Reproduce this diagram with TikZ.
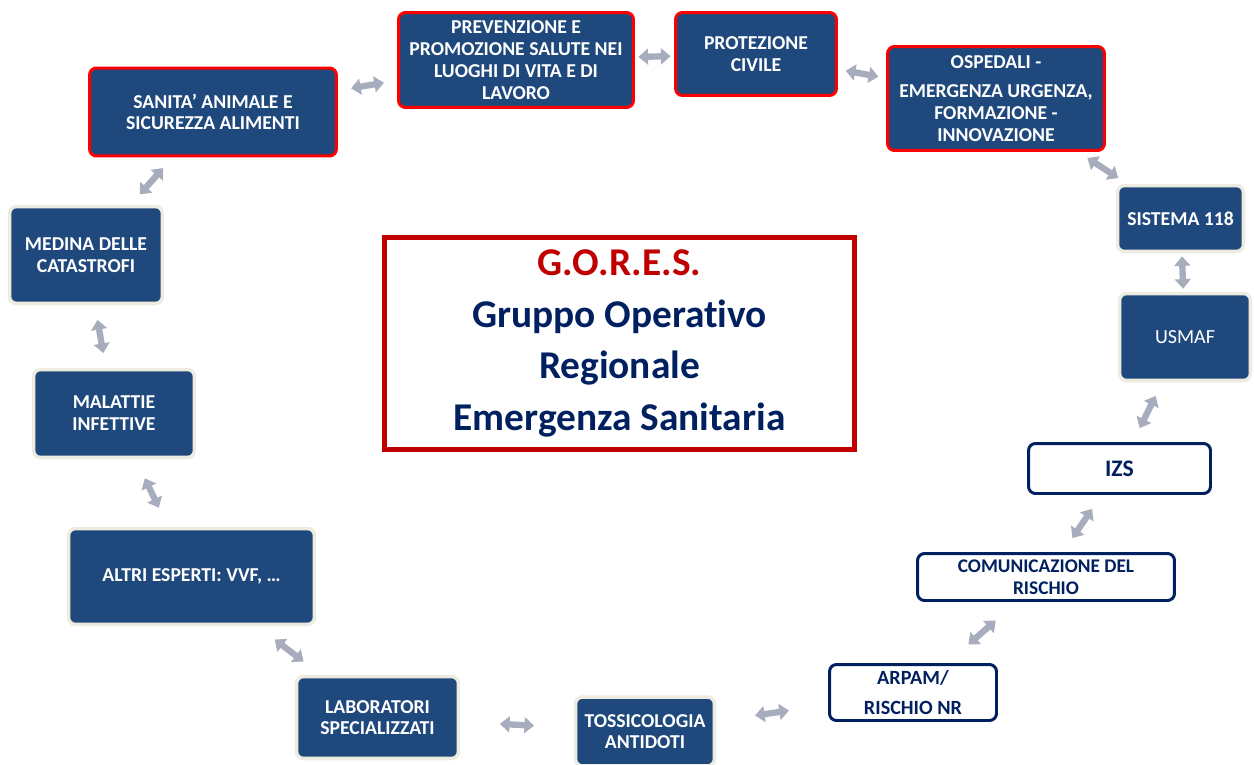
\documentclass[tikz,border=0pt]{standalone}
\usepackage{fontspec}
\setmainfont{Carlito}[Ligatures=NoCommon]
\usetikzlibrary{arrows.meta}
\definecolor{boxblue}{RGB}{31,73,125}
\definecolor{boxred}{RGB}{255,0,0}
\definecolor{cream}{RGB}{238,236,225}
\definecolor{navy}{RGB}{0,32,96}
\definecolor{goresred}{RGB}{192,0,0}
\definecolor{arrowgray}{RGB}{167,173,189}

\begin{document}
\begin{tikzpicture}[x=0.02cm, y=-0.02cm,% one unit = one pixel of the original
        box/.style={rounded corners=4pt, fill=boxblue, text=white, align=center, outer sep=0pt, inner sep=2pt,
          font=\bfseries\fontsize{11.2}{12.4}\selectfont},
        redbox/.style={box, draw=boxred, line width=1.7pt},
        creambox/.style={box, draw=cream, line width=2pt},
        whitebox/.style={box, fill=white, text=navy, draw=navy, line width=1.7pt},
        biarrow/.style={{Triangle[width=9pt,length=5.5pt]}-{Triangle[width=9pt,length=5.5pt]}, line width=3.6pt, draw=arrowgray}]
\useasboundingbox (0,0) rectangle (1254,764);

% top row, red frames
\node[redbox, minimum width=4.94cm, minimum height=1.76cm] (sanita) at (213,112) {SANITA’ ANIMALE E\\SICUREZZA ALIMENTI};
\node[redbox, minimum width=4.7cm, minimum height=1.9cm] (prev) at (516,60) {PREVENZIONE E\\PROMOZIONE SALUTE NEI\\LUOGHI DI VITA E DI\\LAVORO};
\node[redbox, minimum width=3.22cm, minimum height=1.66cm] (prot) at (756,54) {PROTEZIONE\\CIVILE};
\node[redbox, minimum width=4.34cm, minimum height=2.08cm] (osp) at (996,98.5) {OSPEDALI -\\[4pt]EMERGENZA URGENZA,\\FORMAZIONE -\\INNOVAZIONE};

% right side
\node[creambox, minimum width=2.52cm, minimum height=1.32cm] (sis) at (1180.5,218.5) {SISTEMA 118};
\node[creambox, minimum width=2.62cm, minimum height=1.74cm, font=\fontsize{11.4}{12.4}\selectfont] (usmaf) at (1185,337) {USMAF};
\node[whitebox, minimum width=3.64cm, minimum height=1.0cm, font=\bfseries\fontsize{13.5}{16}\selectfont] (izs) at (1119.5,468.5) {IZS};
\node[whitebox, minimum width=5.14cm, minimum height=0.94cm, font=\bfseries\fontsize{11}{12.6}\selectfont] (comun) at (1046,577) {COMUNICAZIONE DEL\\RISCHIO};
\node[whitebox, minimum width=3.34cm, minimum height=1.12cm, font=\bfseries\fontsize{11.5}{12.6}\selectfont] (arpam) at (913,692.5) {ARPAM/\\[4pt]RISCHIO NR};

% bottom and left side
\node[creambox, minimum width=2.78cm, minimum height=1.38cm] (toss) at (645,731.5) {TOSSICOLOGIA\\ANTIDOTI};
\node[creambox, minimum width=3.24cm, minimum height=1.64cm] (lab) at (377.5,717.5) {LABORATORI\\SPECIALIZZATI};
\node[creambox, minimum width=4.92cm, minimum height=1.92cm] (altri) at (191.5,576.5) {ALTRI ESPERTI: VVF, …};
\node[creambox, minimum width=3.22cm, minimum height=1.76cm] (mal) at (114,413.5) {MALATTIE\\INFETTIVE};
\node[creambox, minimum width=3.06cm, minimum height=1.94cm] (med) at (86,255) {MEDINA DELLE\\CATASTROFI};

% centre title
\node[draw=goresred, line width=2.5pt, minimum width=9.4cm, minimum height=4.24cm, align=center,
      text=navy, font=\bfseries\fontsize{22.4}{29.3}\selectfont] (gores) at (619.5,343.5)
      {\textcolor{goresred}{G.O.R.E.S.}\\Gruppo Operativo\\Regionale\\Emergenza Sanitaria};

\foreach \a/\b/\s in {sanita/prev/8.4, prev/prot/2.8, prot/osp/5.3, osp/sis/7.8, sis/usmaf/2.7,
    usmaf/izs/9.8, izs/comun/10.6, comun/arpam/17.5, arpam/toss/23.3, toss/lab/23.6,
    lab/altri/14.2, altri/mal/13.1, mal/med/9.5, med/sanita/9.2}{ % \s is the gap trimmed at both ends
\draw[biarrow, shorten <=\s pt, shorten >=\s pt] (\a) -- (\b);
}
\end{tikzpicture}
\end{document}
